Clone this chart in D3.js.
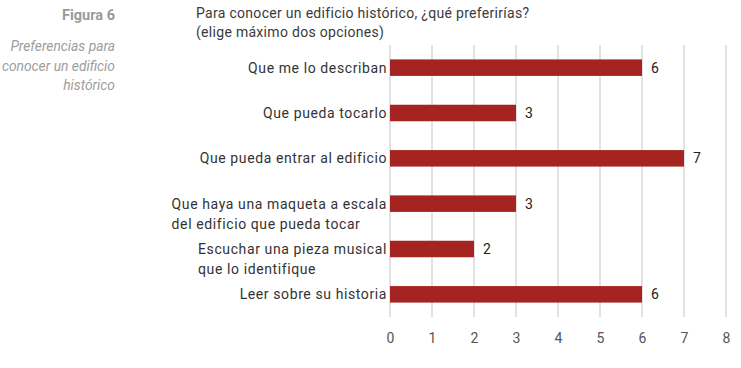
<!DOCTYPE html>
<html>
<head>
<meta charset="utf-8">
<script src="https://cdn.jsdelivr.net/npm/d3@7"></script>
<style>
body { margin:0; background:#fff; }
svg text { font-family: Roboto, "DejaVu Sans", sans-serif; }
</style>
</head>
<body>
<svg id="chart"></svg>
<script>
var categories = [
    ["Que me lo describan"],
    ["Que pueda tocarlo"],
    ["Que pueda entrar al edificio"],
    ["Que haya una maqueta a escala", "del edificio que pueda tocar"],
    ["Escuchar una pieza musical", "que lo identifique"],
    ["Leer sobre su historia"]
]
var values = [6, 3, 7, 3, 2, 6]
var ticks = [0, 1, 2, 3, 4, 5, 6, 7, 8]
var titleLines = ["Para conocer un edificio histórico, ¿qué preferirías?", "(elige máximo dos opciones)"]
var captionLines = ["Preferencias para", "conocer un edificio", "histórico"]

var screen = {width:741, height:368}
var margins = {top:45, bottom:51, left:390, right:15}

var svg = d3.select("#chart")
    .attr("width",screen.width)
    .attr("height",screen.height)

// left side caption
svg.append("text")
    .attr("x",115).attr("y",20)
    .attr("text-anchor","end")
    .style("font-weight","bold")
    .style("font-size","14.5px")
    .attr("fill","#9a9a9a")
    .text("Figura 6")

svg.selectAll(".caption")
    .data(captionLines)
    .enter()
    .append("text")
    .classed("caption",true)
    .attr("x",115)
    .attr("y",function(d,i){ return 51+i*19.5 })
    .attr("text-anchor","end")
    .style("font-style","italic")
    .style("font-size","13.8px")
    .attr("fill","#9d9d9d")
    .text(function(d){ return d })

// title
svg.selectAll(".title")
    .data(titleLines)
    .enter()
    .append("text")
    .classed("title",true)
    .attr("x",196)
    .attr("y",function(d,i){ return 18+i*19 })
    .style("font-size","14px")
    .style("letter-spacing","0.3px")
    .attr("fill","#3a3a3a")
    .text(function(d){ return d })

var g = svg.append("g")
    .attr("transform","translate("+margins.left+","+margins.top+")")

var xScale = d3.scaleLinear()
    .domain([0,8])
    .range([0,336])

var yScale = d3.scaleBand()
    .domain(d3.range(categories.length))
    .range([0,272])
    .paddingInner(0.636)
    .paddingOuter(0.318)

// gridlines
g.selectAll(".grid")
    .data(ticks)
    .enter()
    .append("line")
    .classed("grid",true)
    .attr("x1",function(d){ return xScale(d) })
    .attr("x2",function(d){ return xScale(d) })
    .attr("y1",0)
    .attr("y2",272)
    .attr("stroke","#d9d9d9")
    .attr("stroke-width",1.5)

// x axis labels
var xAxis = d3.axisBottom(xScale)
    .tickValues(ticks)
    .tickSize(0)
    .tickPadding(10)
var ax = g.append("g")
    .attr("transform","translate(0,278)")
    .call(xAxis)
ax.select(".domain").remove()
ax.selectAll("text")
    .style("font-family","Roboto, sans-serif")
    .style("font-size","14px")
    .style("letter-spacing","0.3px")
    .attr("fill","#555")

// bars
g.selectAll("rect")
    .data(values)
    .enter()
    .append("rect")
    .attr("x",xScale(0))
    .attr("y",function(d,i){ return yScale(i) })
    .attr("width",function(d){ return xScale(d)-xScale(0) })
    .attr("height",yScale.bandwidth())
    .attr("fill","#a52421")

// value labels
g.selectAll(".val")
    .data(values)
    .enter()
    .append("text")
    .classed("val",true)
    .attr("x",function(d){ return xScale(d)+9 })
    .attr("y",function(d,i){ return yScale(i)+yScale.bandwidth()/2+5 })
    .style("font-size","14px")
    .attr("fill","#222")
    .text(function(d){ return d })

// category labels (wrapped lines, block right-aligned, lines left-aligned)
var labels = g.selectAll(".cat")
    .data(categories)
    .enter()
    .append("text")
    .classed("cat",true)
    .attr("y",function(d,i){ return yScale(i)+yScale.bandwidth()/2+5 })
    .style("font-size","14px")
    .style("letter-spacing","0.6px")
    .attr("fill","#333")

labels.each(function(lines){
    var t = d3.select(this)
    lines.forEach(function(line,k){
        t.append("tspan")
            .attr("dy",k==0 ? 0 : 20)
            .text(line)
    })
    var w = 0
    t.selectAll("tspan").each(function(){
        w = Math.max(w,this.getComputedTextLength())
    })
    t.selectAll("tspan").attr("x",-3-w)
})
</script>
</body>
</html>
